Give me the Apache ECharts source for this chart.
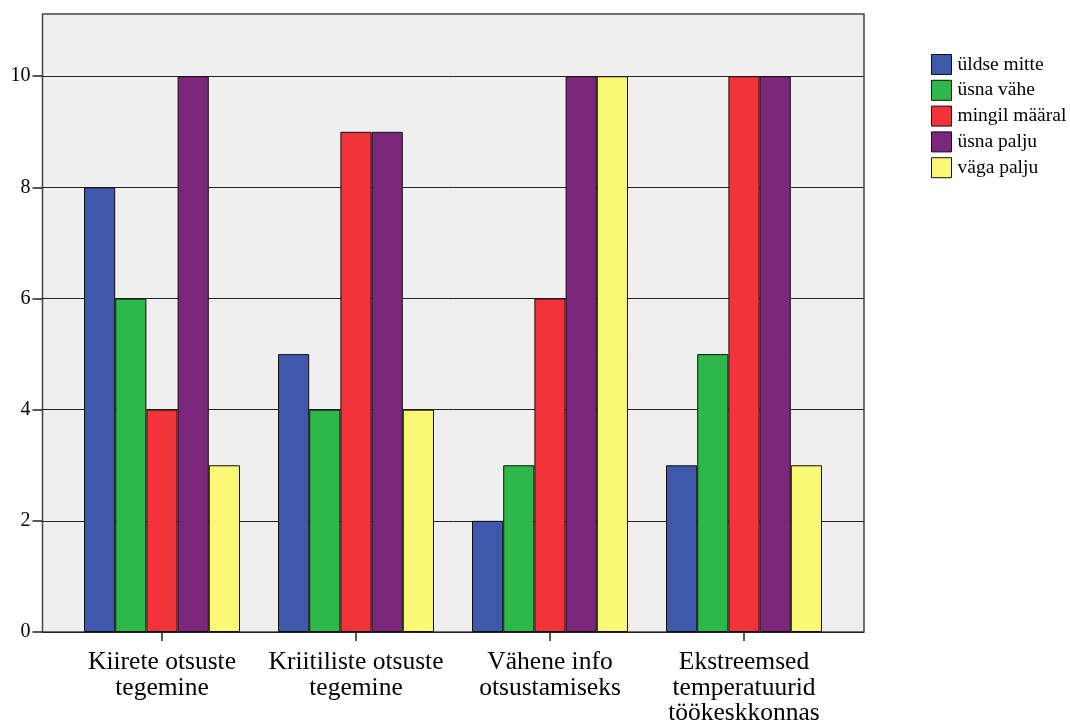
<!DOCTYPE html>
<html>
<head>
<meta charset="utf-8">
<script src="https://cdn.jsdelivr.net/npm/echarts@6/dist/echarts.min.js"></script>
<style>
  html, body { margin: 0; padding: 0; background: #ffffff; }
  #chart { width: 1070px; height: 722px; }
</style>
</head>
<body>
<div id="chart"></div>
<script>
// Survey response counts per work-stress factor
const categories = [
  'Kiirete otsuste\ntegemine',
  'Kriitiliste otsuste\ntegemine',
  'Vähene info\notsustamiseks',
  'Ekstreemsed\ntemperatuurid\ntöökeskkonnas'
];
const seriesNames = ['üldse mitte', 'üsna vähe', 'mingil määral', 'üsna palju', 'väga palju'];
const uldseMitte   = [8, 5, 2, 3];
const usnaVahe     = [6, 4, 3, 5];
const mingilMaaral = [4, 9, 6, 10];
const usnaPalju    = [10, 9, 10, 10];
const vagaPalju    = [3, 4, 10, 3];
const yTicks = [0, 2, 4, 6, 8, 10];

const seriesValues = [uldseMitte, usnaVahe, mingilMaaral, usnaPalju, vagaPalju];
const colors = ['#3e58ac', '#2eb84b', '#f2333a', '#7b287c', '#fbf875'];
const FONT = '"Liberation Serif", "DejaVu Serif", serif';
const Y_MAX = 11.12;

const chart = echarts.init(document.getElementById('chart'), null, { renderer: 'canvas' });

chart.setOption({
  animation: false,
  backgroundColor: '#ffffff',
  textStyle: { fontFamily: FONT, color: '#000' },
  legend: {
    orient: 'vertical',
    left: 926,
    top: 49,
    itemWidth: 20,
    itemHeight: 20,
    itemGap: 4.8,
    icon: 'rect',
    data: seriesNames,
    textStyle: { fontFamily: FONT, fontSize: 19.5, lineHeight: 20, color: '#000', padding: [0, 0, 0, 1] },
    itemStyle: { borderColor: '#111', borderWidth: 1 }
  },
  grid: [
    // frame: background, border and horizontal grid lines
    { left: 42.5, right: 206, top: 14, bottom: 90, show: true, outerBoundsMode: 'none',
      backgroundColor: '#efefef', borderColor: '#444', borderWidth: 1.5 },
    // bars, inset from the frame
    { left: 65, right: 229, top: 14, bottom: 90, outerBoundsMode: 'none' }
  ],
  xAxis: [
    { gridIndex: 0, type: 'value', min: 0, max: 1, show: false },
    { gridIndex: 1, type: 'category', data: categories,
      axisLine: { show: false },
      axisTick: { show: true, alignWithLabel: true, length: 9, lineStyle: { color: '#222', width: 1.5 } },
      axisLabel: { fontFamily: FONT, fontSize: 25.5, lineHeight: 25.5, color: '#000', margin: 18, interval: 0 } }
  ],
  yAxis: [
    { gridIndex: 0, type: 'value', min: 0, max: Y_MAX, interval: 2,
      axisLine: { show: false },
      axisTick: { show: true, length: 10, customValues: yTicks, lineStyle: { color: '#222', width: 1.5 } },
      axisLabel: { fontFamily: FONT, fontSize: 20, color: '#000', margin: 12, customValues: yTicks },
      splitLine: { show: true, lineStyle: { color: '#222', width: 1 } } },
    { gridIndex: 1, type: 'value', min: 0, max: Y_MAX, show: false, splitLine: { show: false } }
  ],
  series: seriesNames.map((name, i) => ({
    name,
    type: 'bar',
    xAxisIndex: 1,
    yAxisIndex: 1,
    data: seriesValues[i],
    barGap: '0%',
    barCategoryGap: '19.6%',
    itemStyle: { color: colors[i], borderColor: '#111', borderWidth: 1 }
  }))
});
</script>
</body>
</html>
